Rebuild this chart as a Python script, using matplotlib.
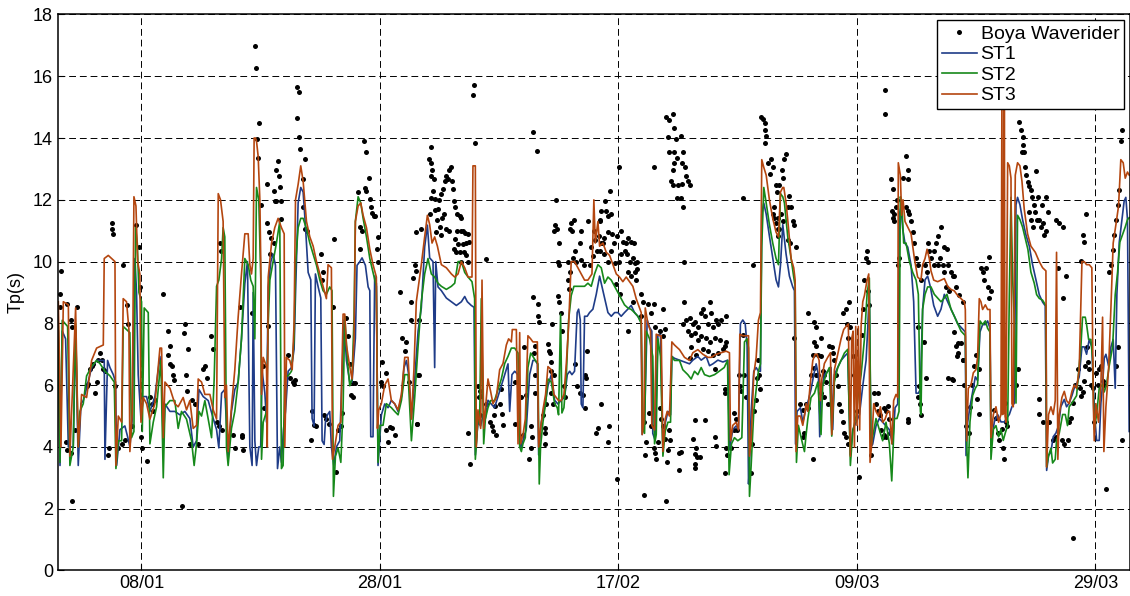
import matplotlib
matplotlib.use("Agg")
import matplotlib.pyplot as plt
import matplotlib.dates as mdates
import pandas as pd

plt.rcParams['font.family'] = ['Liberation Sans', 'DejaVu Sans']

# dias desde 01/01 y periodo de pico Tp (s)
boya_day = [0.25, 0.14, 0.17, 0.78, 1.09, 1.15, 1.56, 0.64, 0.75, 1.06, 1.42, 1.2, 2.4, 2.54, 2.68, 2.82, 2.96, 3.1,
            3.24, 3.38, 3.52, 3.66, 3.8, 3.94, 4.22, 4.27, 4.5, 4.5, 4.64, 4.78, 5.06, 5.34, 5.61, 5.47, 5.75, 5.84,
            6.17, 6.51, 6.79, 6.9, 6.96, 7.07, 7.43, 7.71, 7.85, 7.99, 8.13, 8.83, 9.19, 9.39, 9.25, 9.39, 9.58, 9.66,
            9.75, 10.36, 10.64, 10.59, 10.87, 10.7, 10.78, 11.06, 11.2, 11.48, 11.76, 12.18, 12.32, 12.46, 12.82, 13.02,
            13.3, 13.49, 13.72, 13.58, 13.63, 14.69, 14.83, 15.25, 15.45,
            16.51, 16.59, 16.84, 16.73, 16.79, 17.0, 17.5, 18.13, 18.32, 18.46, 18.52, 18.6, 18.18, 18.32, 18.69, 18.74,
            17.57, 17.7, 17.85, 18.13, 17.79, 17.63, 17.21, 17.3, 15.45, 15.53, 16.28, 20.08, 20.22, 20.08, 20.2,
            20.28, 20.75, 20.56, 20.56, 20.75, 20.92, 19.3, 19.44, 19.72, 19.86, 19.8, 21.2, 21.31, 21.48, 21.65, 22.04,
            22.23, 22.15, 22.32, 22.51, 22.71, 23.07, 23.15, 23.35, 23.49, 23.72, 23.82, 24.19, 24.33, 24.47, 24.55,
            24.78, 24.75, 24.94, 25.17, 25.31, 25.5, 25.66, 25.87, 25.87, 25.78, 26.06, 26.15, 26.28, 26.34, 26.51,
            26.62, 26.84, 26.79, 26.84, 25.31, 27.2, 27.49, 27.12, 27.26, 27.54, 27.68, 27.82, 28.02, 28.24, 28.66,
            28.85, 29.22, 29.14, 29.41, 29.58, 29.64, 29.78, 29.92, 30.0, 30.25, 30.14,
            31.32, 31.1, 31.26, 31.37, 31.32, 31.54, 31.46, 31.32, 31.6, 31.93, 31.87, 32.15, 32.29, 32.43, 32.57,
            32.77, 32.93, 32.71, 33.05, 33.13, 33.22, 33.32, 33.49, 33.69, 33.83, 31.17, 31.65, 31.82, 32.01, 32.21,
            32.37, 31.73, 32.09, 32.57, 32.77, 33.49, 33.77, 33.97, 34.16, 34.39, 33.32, 33.55, 33.97, 34.25, 34.44,
            33.2, 33.41, 33.69, 34.05, 34.25, 33.83, 34.39, 30.47, 30.06, 30.25, 30.2, 30.14, 34.89, 34.8, 34.97,
            35.87, 34.39, 34.53, 35.22, 35.36, 35.5, 35.28, 35.36, 35.92, 36.22, 36.41, 36.55, 36.68, 36.49, 36.77,
            37.07, 37.13, 37.22, 37.34, 38.29, 38.35, 38.83, 39.1, 38.99, 39.27, 39.47, 39.63, 39.75, 39.69, 39.83,
            40.2, 39.83, 40.25, 40.25, 40.31, 40.03, 39.92, 40.03, 39.97, 40.67, 40.81, 40.81, 40.86, 40.95, 41.09,
            41.14, 41.23, 41.37, 41.31, 41.43, 41.59, 41.37, 41.51, 41.65, 41.87, 41.59, 41.79, 41.98, 41.95, 42.04,
            41.95, 42.04, 42.17, 42.26, 42.4, 42.49, 42.77, 42.91, 43.04, 43.1, 43.27, 42.91, 42.77, 42.82, 43.18,
            43.32, 43.46, 43.74, 43.82, 43.82, 44.1, 43.32, 43.54, 43.74, 44.02, 44.16, 44.22, 44.3, 44.38, 44.44,
            44.58, 44.72, 44.86, 44.94, 45.06, 45.22, 45.14, 45.28, 45.5, 45.42, 45.56, 45.7,
            45.42, 45.89, 45.98, 46.26, 46.12, 46.34, 45.34, 45.56, 45.77, 46.12, 46.44, 46.65, 46.87, 47.23,
            47.01, 47.37, 47.65, 47.79, 48.07, 48.29, 45.42, 45.77, 46.12, 46.4, 46.74, 47.01, 47.23, 47.51, 47.74,
            47.93, 48.21, 48.41, 48.57, 47.79, 48.07, 48.35, 48.57, 48.49, 47.09, 46.82, 48.21, 48.91, 49.05, 49.47,
            49.97, 49.75, 50.73, 50.03, 50.45, 50.87, 50.73, 47.79, 48.91, 46.17, 46.12, 46.9, 49.13, 49.33,
            49.19, 49.13, 49.55, 49.69, 49.97, 50.11, 50.03, 50.31, 50.45, 50.59, 50.73, 50.87, 51.06, 51.0, 51.21,
            51.29, 51.15, 52.21, 52.04, 52.12, 52.49, 52.49, 50.0, 50.95, 51.15, 51.56, 51.21, 51.28, 51.7, 51.84,
            52.26, 51.65, 51.93, 51.7, 52.4, 51.56, 52.32, 52.6, 51.37, 51.56, 51.98, 52.32, 52.68, 52.82, 52.96,
            51.93, 52.21, 52.4, 52.4, 52.68, 52.96, 53.24, 53.38, 52.82, 53.1, 53.38, 53.66, 53.94, 54.08, 54.22,
            54.64, 54.78, 54.5, 54.92, 55.2, 55.34, 55.61, 56.03, 53.66, 53.94, 54.36, 54.64, 55.06, 55.48, 55.9,
            56.03, 53.1, 53.52, 52.96, 54.08, 54.5, 54.92, 55.34, 55.76, 55.06, 53.38, 54.22, 53.24, 53.52, 53.63,
            53.83, 53.38, 53.44, 53.44, 55.06, 55.2, 56.03, 56.09, 55.95, 55.95, 55.9, 56.4, 56.73, 56.87, 56.68,
            56.98, 57.07, 57.23, 57.29, 57.43, 57.51, 58.13, 58.18, 58.26, 58.41, 58.55, 58.63, 58.74, 58.83, 58.91,
            58.97, 59.11, 59.3, 59.25, 59.39, 59.25, 59.8, 59.94, 59.53, 59.75, 60.22, 60.31, 60.08, 59.94, 60.08,
            60.22, 60.36, 60.42, 60.64, 60.78, 57.43, 57.71,
            60.5, 60.78, 60.7, 60.92, 61.06, 60.36, 60.5, 61.2, 61.34, 61.48, 61.62, 61.76, 61.2, 61.42, 61.9,
            61.76, 62.26, 62.46, 62.74, 62.6, 62.46, 62.88, 62.93, 63.3, 63.44, 63.58, 63.99, 63.38, 63.58, 63.3,
            63.72, 63.99, 63.15, 63.44, 63.58, 63.77, 64.13, 64.27, 64.41, 63.99, 64.27, 64.55, 64.69, 64.89, 64.97,
            65.11, 65.25, 65.39, 65.53, 65.67, 65.81, 66.09, 65.95, 66.23, 65.81, 66.09, 66.17, 66.37, 66.45, 66.28,
            66.7, 66.76, 66.9, 67.04, 67.18, 67.4, 67.49, 67.63, 67.77, 67.85, 67.91, 67.96, 68.04, 68.18, 68.46,
            68.6, 68.74, 68.8, 68.97, 69.02, 69.16, 69.3, 69.44, 69.58, 69.72, 69.8, 69.44, 69.3, 69.36, 69.36,
            69.86, 70.0, 69.92, 70.0, 70.14, 70.08, 70.28, 70.36, 70.47, 70.56, 70.84, 71.12, 71.26, 71.31, 71.12,
            71.26, 71.4, 71.54, 71.68, 71.82, 71.96, 72.09, 72.37, 72.71, 72.88, 72.93, 73.07, 73.21, 73.44, 73.63,
            73.77, 73.49, 73.77, 73.99, 74.19, 74.33, 74.61, 74.89, 75.17, 74.02, 74.3, 74.53, 74.44, 74.72, 74.61,
            75.03, 75.31, 75.39, 75.45, 75.87, 72.15, 72.65, 72.79, 72.2, 72.09, 72.26, 72.37, 71.31, 71.26,
            75.03, 75.31, 75.59, 75.87, 75.17, 75.45, 75.73, 75.87, 74.97, 75.98, 76.12, 76.4, 76.45, 76.68,
            76.82, 76.96, 77.1, 77.26, 77.4, 77.54, 77.68, 77.82, 77.96, 78.1, 78.24, 78.04, 77.21, 78.52, 78.66,
            78.8, 78.94, 79.16, 79.27, 79.36, 79.44, 79.5, 79.55, 80.47, 80.36, 80.61, 80.75, 80.89, 80.95, 81.03,
            80.84, 81.12, 81.17, 81.31, 81.45, 81.59, 81.67, 81.87, 81.96, 82.07, 82.29, 82.43, 82.57, 82.71, 82.85,
            82.99, 81.45, 81.59, 81.73, 82.15, 82.51, 82.01, 82.85, 83.69, 83.97, 84.25, 83.83, 84.53, 84.25, 82.29,
            82.23, 82.57, 83.13, 83.41, 83.69, 84.19, 84.39, 84.66, 84.8, 84.94, 85.08, 85.31, 85.5, 85.7, 85.78,
            85.92, 86.06, 86.15, 86.26, 86.34, 86.48, 86.62, 86.76, 86.9, 87.04, 87.18, 87.32, 87.46, 87.6, 87.74,
            87.88, 85.14, 85.78, 85.98, 86.06, 86.2, 88.16, 88.3, 88.44, 88.58, 88.72, 88.86, 89.0, 89.13, 89.22,
            89.27, 88.86, 88.72]
boya_tp = [9.7, 8.94, 8.52, 8.64, 8.11, 7.87, 8.52, 4.15, 3.91, 3.79, 4.56, 2.26, 5.98, 6.04, 6.51, 6.63, 6.69, 5.74,
           6.1, 6.81, 7.04, 6.81, 6.51, 6.45, 3.74, 3.97, 11.24, 11.06, 10.89, 5.98, 3.97, 4.09, 4.21, 9.88, 8.58, 7.99,
           4.68, 11.18, 10.47, 9.17, 4.33, 3.97, 3.56, 5.63, 5.39, 5.15, 5.51, 8.94, 7.75, 7.28, 6.99, 6.69, 6.63, 6.34,
           6.16, 2.08, 7.99, 7.7, 7.16, 6.34, 5.8, 4.09, 5.51, 5.39, 4.09, 6.51, 6.63, 6.22, 7.58, 7.16,
           4.8, 4.68, 4.56, 10.59, 10.35, 4.39, 3.97, 8.52, 4.33,
           16.97, 16.26, 14.49, 13.96, 13.37, 11.83, 12.52, 12.28, 12.96, 13.25, 12.78, 12.42, 11.95, 11.95, 11.95,
           11.39, 11.26, 10.97, 10.77, 10.59, 10.24, 7.93, 6.63, 5.27, 4.39, 3.91, 8.35, 15.65, 15.5, 14.66, 14.02,
           13.64, 13.31, 12.66, 11.77, 11.06, 11.0, 6.99, 6.22, 6.1, 6.16, 6.04, 4.21, 5.15, 4.7, 4.68, 10.24,
           9.67, 9.41, 5.04, 4.92, 4.74, 8.52, 10.73, 3.2, 4.56, 4.68, 5.09, 8.17, 7.58, 6.69, 5.69,
           5.63, 6.08, 6.08, 12.25, 11.12, 11.0, 13.9, 13.55, 12.27, 12.39, 12.72, 12.03, 11.77, 11.56, 11.47,
           11.48, 10.8, 10.41, 9.98, 10.41, 6.75, 6.39, 6.1, 5.98, 4.56, 4.15, 4.65, 4.62, 4.39, 9.03,
           7.52, 7.4, 7.1, 6.1, 8.7, 8.11, 9.47, 9.88, 10.95, 6.34, 4.74,
           13.72, 13.31, 13.19, 12.96, 12.78, 12.66, 12.3, 12.07, 12.03, 12.0, 11.71, 12.19, 12.36, 12.6, 12.78,
           12.96, 13.05, 12.66, 12.6, 12.36, 11.95, 11.77, 11.54, 11.48, 11.42, 11.54, 11.66, 11.36, 11.12, 11.42,
           11.54, 10.95, 10.85, 11.06, 11.0, 11.0, 11.0, 11.0, 10.92, 10.89, 10.73, 10.57, 10.57, 10.59, 10.65,
           10.41, 10.3, 10.3, 10.3, 10.21, 10.0, 10.0, 11.06, 9.7, 8.11, 6.34, 4.74, 15.73, 15.38, 13.84,
           10.09, 4.44, 3.44, 5.98, 5.8, 5.65, 5.63, 5.04, 5.39, 4.8, 4.68, 5.04, 5.33, 4.5, 4.39,
           5.39, 5.86, 5.06, 4.7, 4.74, 6.1, 5.63, 7.22, 4.39, 5.69, 3.62, 3.97, 4.33, 4.68, 14.2,
           13.57, 8.84, 8.64, 8.23, 8.05, 7.28, 7.04, 6.34, 5.74, 5.04, 4.62, 4.09, 4.44, 5.39, 7.34,
           7.1, 7.04, 6.75, 6.45, 7.99, 6.34, 5.74, 5.39, 11.18, 11.06, 11.0, 12.01, 10.59, 10.0, 9.88,
           8.88, 8.7, 8.35, 7.75, 5.98, 5.63, 10.0, 11.06, 11.24, 11.0, 11.36, 9.65, 9.41, 9.11, 10.12,
           10.35, 10.0, 10.59, 11.0, 10.06, 9.88, 6.69, 5.98, 5.74, 5.69, 5.27, 6.34, 6.22, 7.1, 11.3,
           9.88, 10.47, 10.18, 11.0, 10.71, 10.35, 4.44, 4.62, 5.39, 11.36, 11.65, 10.59,
           11.3, 11.95, 11.65, 12.3, 11.48, 11.54, 10.83, 10.59, 10.77, 10.95, 10.89, 10.59, 10.83, 11.0,
           13.07, 10.65, 10.59, 10.77, 10.65, 10.59, 10.35, 10.24, 10.0, 10.35, 9.94, 10.0, 10.24, 10.35, 10.24,
           10.0, 10.12, 9.94, 10.0, 9.65, 9.53, 9.65, 9.76, 9.41, 8.94, 9.29, 8.7, 8.94, 8.7, 8.64,
           8.64, 8.35, 8.46, 7.87, 7.75, 7.81, 7.58, 7.75, 8.23, 4.68, 4.15, 2.97, 4.8, 4.15,
           3.74, 2.43, 5.09, 4.68, 3.97, 3.62, 3.79, 4.15, 5.27, 4.92, 4.68, 4.27, 3.5, 2.26, 4.56,
           4.21, 3.91, 3.85, 3.26, 3.79, 8.7, 10.0, 13.05, 14.67, 14.04, 14.79, 13.55, 14.57, 14.33, 13.96,
           14.08, 13.55, 13.37, 13.19, 13.55, 12.96, 13.19, 13.07, 12.6, 12.48, 12.48, 12.51, 12.78, 12.6, 12.48,
           12.07, 12.07, 11.77, 7.99, 8.11, 8.17, 7.99, 8.05, 7.75, 7.63, 7.69, 7.87, 8.35, 8.46, 8.23,
           8.7, 8.35, 7.99, 7.87, 8.11, 7.99, 8.11, 8.23, 7.46, 7.58, 7.52, 7.4, 7.52, 7.46, 7.28,
           7.4, 7.22, 6.99, 6.87, 7.16, 7.1, 6.99, 7.04, 7.16, 6.51, 4.86, 4.86, 4.27, 3.97, 3.68,
           3.68, 3.76, 3.44, 3.32, 4.33, 4.03, 3.97, 3.74, 3.14, 5.74, 5.86, 3.97, 5.09, 4.92, 4.56,
           4.56, 6.34, 5.98, 5.8, 7.63, 6.34, 3.14, 4.09, 9.88, 5.15, 5.51, 6.22, 6.81, 6.34, 5.86,
           14.67, 14.61, 14.49, 14.25, 14.08, 13.84, 13.31, 13.07, 13.19, 12.84, 12.48, 12.25, 11.77, 11.54, 11.42,
           11.24, 11.06, 10.83, 11.54, 11.3, 12.07, 5.63,
           12.48, 12.72, 12.96, 13.31, 13.49, 11.42, 11.06, 11.77, 12.13, 11.77, 11.3, 11.18, 10.71, 10.59, 10.47,
           7.52, 5.39, 5.21, 5.39, 4.44, 4.33, 5.27, 8.35, 3.62, 8.05, 7.87, 7.54, 7.4, 7.28, 6.99,
           6.99, 6.93, 6.34, 6.57, 6.34, 6.34, 6.45, 6.34, 6.1, 5.74, 5.63, 5.39, 7.28, 7.22, 7.04,
           6.81, 6.34, 5.98, 5.39, 5.15, 4.8, 4.33, 4.44, 4.09, 8.35, 8.46, 7.99, 8.7, 7.87, 7.52,
           6.93, 6.34, 5.86, 5.15, 3.03, 7.63, 8.46, 9.41, 10.12, 10.35, 10.0, 9.05, 8.58, 3.74, 5.74,
           5.39, 5.74, 5.15, 5.04, 4.56, 4.33, 5.27, 5.15, 5.33, 4.92, 4.44, 4.33, 4.39, 15.56, 14.79,
           12.66, 12.36, 11.65, 11.42, 11.54, 11.3, 11.77, 12.01, 9.88, 10.12, 12.72, 13.43, 12.96, 12.66, 11.77,
           11.65, 11.54, 11.3, 10.95, 10.59, 10.12, 9.88, 9.41, 9.88, 9.65, 10.59, 10.35, 10.12, 10.35, 10.59,
           10.83, 9.88, 9.88, 10.12, 9.88, 9.65, 9.88, 9.65, 9.53, 11.12, 10.47, 10.41, 9.17, 9.05, 6.22,
           6.16, 7.28, 6.93, 7.04, 6.81, 7.87, 7.4, 6.22, 5.98, 5.63, 5.39, 5.04, 4.8, 4.92,
           9.54, 9.18, 8.93, 8.69, 7.72, 7.36, 7.36, 6.81, 6.21, 6.02, 4.69, 4.45, 5.3, 6.02,
           6.63, 6.99, 5.54, 5.05, 9.78, 9.66, 9.42, 9.78, 9.18, 10.15, 9.05, 8.81, 6.51, 5.18, 4.93,
           4.45, 4.21, 4.57, 3.96, 3.6, 5.42, 4.81, 4.69, 6.51, 6.02, 14.51, 14.27, 14.02, 13.78, 13.54,
           13.54, 13.05, 12.81, 12.57, 12.45, 12.33, 12.08, 11.84, 11.6, 11.36, 11.36, 11.12, 11.24, 10.87, 10.99,
           11.6, 11.6, 11.36, 11.12, 12.08, 11.84, 12.93, 12.08, 11.36, 11.24, 11.12, 9.78, 9.54, 8.81, 5.54,
           5.05, 4.81, 4.81, 4.21, 4.33, 4.21, 4.08, 4.21, 4.81, 4.93, 5.42, 6.02, 6.51, 5.9, 5.66,
           5.78, 6.15, 6.63, 7.24, 6.75, 6.51, 6.02, 5.9, 4.81, 6.39, 6.02, 6.51, 6.63, 6.15, 6.02,
           2.63, 1.05, 10.02, 10.87, 10.63, 11.54, 9.66, 9.9, 10.39, 10.87, 11.36, 11.84, 12.33, 13.9, 14.27,
           4.21, 7.24, 6.63]

st1_day = [0.03, 0.17, 0.36, 0.64, 0.87, 1.28, 1.48, 1.7, 1.93, 2.12, 2.4, 2.82, 3.24, 3.52, 3.88, 3.94, 4.16, 4.36,
           4.64, 4.83, 4.92, 5.2, 5.61, 5.84, 6.03, 6.23, 6.45, 6.59, 6.73, 6.96, 7.15, 7.43, 7.71, 8.13, 8.55, 8.69,
           8.83, 8.97, 9.39, 9.8, 10.22, 10.64, 11.06, 11.34, 11.62, 11.82, 12.18, 12.6, 13.02, 13.3, 13.49, 13.72,
           13.99, 14.27, 14.55, 14.83, 15.11, 15.39, 15.67, 15.89, 16.09, 16.28, 16.37, 16.51, 16.65, 16.84, 17.0,
           17.12, 17.35, 17.49, 17.63, 17.85, 18.04, 18.24, 18.41, 18.6, 18.74, 18.91, 19.08, 19.3, 19.58, 19.8,
           19.92, 20.14, 20.36, 20.56, 20.75, 20.98, 21.2, 21.31, 21.48, 21.59, 21.82, 22.04, 22.15, 22.32, 22.43,
           22.6, 22.79, 22.93, 23.13, 23.35, 23.63, 23.82, 23.99, 24.19, 24.47, 24.66, 24.94, 25.08, 25.28, 25.5,
           25.78, 26.01, 26.15, 26.23, 26.42, 26.56, 26.7, 26.84, 27.12, 27.4, 27.68, 27.96, 28.24, 28.52, 28.8,
           29.02, 29.22, 29.41, 29.64, 29.92, 30.2, 30.47, 30.75, 30.98, 31.17, 31.45, 31.59, 31.68, 31.87, 32.15,
           32.57, 32.99, 33.41, 33.83, 34.11, 34.33, 34.66, 34.89, 35.0, 35.22, 35.45, 35.64, 35.84, 36.06, 36.34,
           36.61, 36.9, 37.18, 37.46, 37.74, 37.88, 38.07, 38.3, 38.58, 38.8, 38.99, 39.27, 39.55, 39.83, 40.03,
           40.2, 40.31, 40.53, 40.81, 41.09, 41.37, 41.65, 41.93, 42.2, 42.49, 42.71, 42.91, 43.1, 43.32, 43.54,
           43.66, 43.8, 43.88, 44.02, 44.16, 44.38, 44.58, 44.86, 45.14, 45.42, 45.56, 45.84, 46.12, 46.4, 46.68,
           46.96, 47.23, 47.51, 47.79, 48.07, 48.35, 48.63, 48.91, 48.99, 49.19, 49.41, 49.61, 49.8, 49.88, 50.08,
           50.31, 50.53, 50.73, 50.92, 51.15, 51.37, 51.48, 51.7, 52.12, 52.54, 52.96, 53.24, 53.66, 53.94, 54.36,
           54.64, 54.92, 55.34, 55.76, 56.17, 56.31, 56.59, 56.87, 57.07, 57.23, 57.43, 57.63, 57.79, 57.91, 57.99,
           58.13, 58.35, 58.55, 58.74, 58.91, 59.02, 59.19, 59.39, 59.66, 59.94, 60.22, 60.42, 60.59, 60.78, 61.06,
           61.34, 61.62, 61.76, 61.85, 61.98, 62.26, 62.46, 62.74, 62.93, 63.15, 63.38, 63.58, 63.77, 63.88, 63.99,
           64.27, 64.55, 64.83, 64.97, 65.11, 65.39, 65.67, 65.95, 66.23, 66.45, 66.65, 66.93, 67.21, 67.49, 67.77,
           67.91, 68.04, 68.18, 68.32, 68.6, 68.88, 69.16, 69.44, 69.72, 69.99, 70.2, 70.42, 70.56, 70.7, 70.84,
           71.03, 71.26, 71.54, 71.76, 71.96, 72.15, 72.32, 72.51, 72.71, 72.93, 73.16, 73.44, 73.77, 74.05, 74.33,
           74.61, 74.89, 75.17, 75.45, 75.73, 76.01, 76.09, 76.15, 76.29, 76.48, 76.7, 76.93, 77.12, 77.32, 77.54,
           77.77, 77.96, 78.16, 78.24, 78.52, 78.8, 79.08, 79.36, 79.55, 79.78, 80.0, 80.2, 80.34, 80.47, 80.67,
           80.89, 81.17, 81.45, 81.73, 82.01, 82.29, 82.57, 82.79, 82.91, 83.07, 83.27, 83.46, 83.69, 83.91, 84.1,
           84.39, 84.58, 84.8, 85.03, 85.22, 85.42, 85.64, 85.87, 86.06, 86.26, 86.48, 86.7, 86.82, 86.98, 87.1,
           87.32, 87.46, 87.6, 87.74, 87.88, 88.1, 88.3, 88.49, 88.66, 88.8, 89.0, 89.22, 89.41, 89.55, 89.69,
           89.83]
st1_tp = [7.75, 3.4, 7.75, 7.5, 4.0, 4.0, 7.9, 3.4, 5.4, 5.5, 5.9, 6.57, 6.8, 6.8, 6.8, 3.6, 6.8, 6.57,
          6.34, 6.1, 3.4, 4.56, 4.68, 4.33, 4.0, 4.9, 10.1, 9.0, 6.34, 4.9, 5.63, 5.63, 5.15, 5.63, 6.93, 6.45,
          4.0, 5.39, 5.15, 5.15, 5.04, 5.15, 4.92, 4.0, 4.2, 5.86, 5.63, 5.5, 4.92, 4.56, 3.97, 5.74,
          5.86, 3.6, 5.15, 5.86, 6.1, 7.5, 9.29, 10.0, 4.0, 3.4, 9.0, 4.2, 3.4, 4.0, 4.0,
          6.45, 5.74, 4.8, 9.18, 10.0, 10.24, 9.88, 3.3, 4.0, 3.5, 4.56, 5.15, 6.45, 6.57, 7.16,
          8.94, 11.9, 12.4, 12.25, 11.18, 9.65, 9.41, 4.92, 4.68, 9.6, 9.18, 8.82, 4.2, 4.08, 4.8,
          5.04, 5.15, 4.0, 3.4, 4.0, 4.2, 6.34, 8.11, 6.8, 6.1, 6.1, 7.52, 9.88, 9.98, 10.12,
          9.88, 9.18, 9.06, 4.33, 4.33, 9.53, 9.29, 3.4, 5.04, 5.39, 5.27, 5.51, 5.39, 5.15, 5.63,
          6.57, 6.8, 6.34, 4.92, 6.22, 7.75, 8.5, 10.47, 11.18, 10.12, 10.0, 6.57, 10.0, 9.18, 9.06,
          8.82, 8.7, 8.58, 8.7, 8.87, 8.7, 8.58, 8.52, 3.74, 4.8, 4.68, 5.04, 4.92, 5.51, 5.39,
          5.27, 5.63, 5.98, 6.34, 6.69, 5.15, 6.34, 6.45, 6.34, 3.97, 4.2, 4.56, 6.34, 6.8, 6.8,
          6.69, 3.74, 4.8, 5.27, 5.98, 6.34, 5.51, 5.39, 5.51, 5.63, 6.34, 6.45, 6.34, 6.45, 8.35,
          8.46, 8.11, 5.39, 5.27, 8.23, 8.23, 8.35, 8.46, 8.94, 9.53, 9.29, 8.82, 8.35, 8.23, 8.35,
          8.35, 8.23, 8.35, 8.46, 8.58, 8.35, 8.23, 8.05, 4.4, 4.8, 8.11, 7.87, 7.75, 4.44, 4.21,
          7.63, 7.63, 3.91, 4.76, 5.15, 5.04, 6.93, 6.87, 6.81, 6.75, 6.69, 6.81, 6.93, 6.81, 6.93,
          6.63, 6.69, 6.81, 6.75, 6.81, 3.91, 4.56, 4.68, 4.56, 7.99, 8.11, 7.99, 7.28, 2.8, 3.4,
          5.15, 6.45, 6.57, 6.45, 6.45, 11.54, 11.89, 11.54, 10.83, 10.12, 9.41, 9.18, 9.88, 11.2, 10.24,
          9.53, 9.18, 9.06, 4.09, 5.15, 5.27, 4.8, 5.27, 5.51, 5.86, 6.34, 6.69, 6.34, 4.33, 5.74,
          6.34, 6.45, 6.57, 4.56, 6.34, 6.57, 6.8, 6.93, 7.04, 3.74, 4.56, 4.8, 5.04, 5.98, 6.81,
          7.87, 9.06, 4.0, 4.09, 4.68, 4.92, 4.8, 4.68, 4.56, 4.09, 5.27, 5.39, 11.54, 11.77, 11.06,
          10.59, 10.47, 9.88, 8.7, 5.74, 5.74, 5.86, 8.46, 9.41, 9.53, 9.18, 8.58, 8.23, 8.46, 8.94,
          8.7, 8.46, 8.23, 7.99, 7.87, 7.75, 7.72, 3.72, 4.81, 5.3, 5.78, 6.27, 6.15, 7.72, 7.96,
          7.96, 8.08, 7.84, 4.08, 4.81, 5.05, 4.81, 4.81, 4.93, 5.05, 5.3, 5.42, 11.84, 12.08, 11.84,
          11.36, 10.87, 10.51, 9.9, 9.42, 8.93, 8.69, 8.57, 3.24, 3.72, 3.84, 4.33, 4.45, 4.69, 5.3,
          5.54, 5.3, 5.42, 5.66, 5.9, 6.02, 6.27, 7.24, 7.24, 7.0, 7.48, 7.24, 6.02, 4.81, 4.21,
          4.21, 5.42, 6.02, 6.87, 7.0, 6.63, 7.24, 7.48, 5.9, 8.93, 10.63, 11.36, 11.96, 12.08, 11.36,
          4.5]

st2_day = [0.03, 0.17, 0.36, 0.59, 0.81, 1.0, 1.28, 1.48, 1.7, 1.84, 2.12, 2.4, 2.82, 3.24, 3.52, 3.94, 4.36, 4.72,
           4.86, 5.06, 5.34, 5.47, 5.75, 6.03, 6.17, 6.37, 6.51, 6.65, 6.79, 7.01, 7.07, 7.23, 7.57, 7.71, 7.99, 8.27,
           8.63, 8.83, 8.97, 9.39, 9.8, 10.08, 10.36, 10.78, 11.2, 11.42, 11.62, 11.82, 12.04, 12.32, 12.6, 12.88,
           13.1, 13.3, 13.49, 13.72, 13.85, 13.99, 14.13, 14.27, 14.55, 14.83, 15.11, 15.39, 15.67, 15.95, 16.17,
           16.37, 16.51, 16.65, 16.84, 17.01, 17.07, 17.21, 17.49, 17.63, 17.77, 18.04, 18.32, 18.6, 18.74, 18.88,
           19.02, 19.3, 19.58, 19.8, 19.92, 20.14, 20.36, 20.56, 20.84, 21.12, 21.4, 21.68, 21.96, 22.23, 22.51,
           22.79, 22.98, 23.1, 23.27, 23.49, 23.72, 23.91, 24.05, 24.27, 24.47, 24.66, 24.83, 24.94, 25.17, 25.39,
           25.59, 25.87, 26.15, 26.42, 26.7, 26.84, 27.01, 27.26, 27.54, 27.96, 28.24, 28.52, 28.8, 29.08, 29.36,
           29.64, 29.92, 30.2, 30.47, 30.75, 31.03, 31.31, 31.59, 31.87, 32.15, 32.57, 32.99, 33.27, 33.55, 33.83,
           34.11, 34.39, 34.72, 34.94, 35.0, 35.22, 35.36, 35.5, 35.7, 35.84, 36.06, 36.28, 36.61, 36.9, 37.18,
           37.46, 37.74, 38.02, 38.3, 38.58, 38.72, 38.86, 38.99, 39.19, 39.41, 39.64, 39.83, 40.03, 40.25, 40.36,
           40.47, 40.67, 40.89, 41.09, 41.37, 41.65, 41.87, 41.98, 42.15, 42.26, 42.43, 42.63, 42.82, 43.04, 43.27,
           43.6, 44.16, 44.44, 44.72, 45.0, 45.28, 45.56, 45.84, 46.12, 46.4, 46.68, 46.96, 47.23, 47.51, 47.79,
           48.07, 48.35, 48.63, 48.91, 49.05, 49.19, 49.33, 49.61, 49.88, 50.03, 50.17, 50.31, 50.53, 50.73, 50.92,
           51.15, 51.37, 51.48, 51.7, 52.12, 52.4, 52.82, 53.1, 53.38, 53.66, 53.94, 54.22, 54.64, 55.06, 55.45,
           55.87, 56.15, 56.28, 56.48, 56.73, 57.01, 57.35, 57.57, 57.79, 57.91, 57.99, 58.13, 58.35, 58.55, 58.74,
           58.91, 59.02, 59.19, 59.39, 59.66, 59.94, 60.22, 60.42, 60.59, 60.78, 60.92, 61.2, 61.48, 61.7, 61.82,
           61.93, 62.09, 62.32, 62.6, 62.74, 62.88, 63.15, 63.44, 63.72, 63.99, 64.13, 64.41, 64.69, 64.89, 65.11,
           65.39, 65.67, 65.95, 66.23, 66.45, 66.65, 66.93, 67.12, 67.35, 67.63, 67.85, 68.04, 68.18, 68.32, 68.6,
           68.88, 69.16, 69.44, 69.72, 69.92, 70.14, 70.36, 70.53, 70.64, 70.75, 70.92, 71.12, 71.4, 71.68, 71.96,
           72.15, 72.32, 72.37, 72.51, 72.71, 72.93, 73.21, 73.49, 73.77, 74.05, 74.33, 74.55, 74.89, 75.17, 75.45,
           75.73, 76.01, 76.09, 76.2, 76.31, 76.48, 76.7, 76.93, 77.12, 77.32, 77.54, 77.77, 77.96, 78.16, 78.24,
           78.44, 78.66, 78.88, 79.08, 79.27, 79.44, 79.64, 79.78, 79.92, 80.06, 80.2, 80.34, 80.47, 80.67, 80.89,
           81.12, 81.34, 81.59, 81.87, 82.07, 82.29, 82.57, 82.85, 82.91, 83.07, 83.27, 83.41, 83.63, 83.74, 83.97,
           84.25, 84.47, 84.66, 84.8, 85.03, 85.22, 85.42, 85.59, 85.78, 85.92, 86.15, 86.26, 86.43, 86.62, 86.76,
           86.9, 87.1, 87.32, 87.6, 87.74, 87.93, 88.16, 88.44, 88.66, 88.86, 89.05, 89.27, 89.5, 89.69, 89.83]
st2_tp = [7.9, 3.5, 8.1, 8.0, 7.9, 3.4, 4.0, 8.0, 4.0, 5.15, 5.4, 6.3, 6.6, 6.8, 6.7, 6.45, 6.3, 6.1,
          3.3, 4.2, 4.2, 7.9, 7.8, 7.7, 4.3, 4.5, 11.1, 10.6, 9.0, 8.7, 4.5, 8.5, 8.35, 4.1, 4.8, 5.3,
          6.8, 3.0, 5.3, 5.5, 5.5, 4.6, 5.15, 4.9, 4.2, 3.4, 4.1, 5.15, 5.0, 5.5, 4.9, 4.3,
          6.2, 9.2, 9.4, 10.1, 11.1, 10.8, 4.0, 3.4, 4.6, 5.15, 6.1, 7.5, 10.1, 9.9, 9.4,
          9.2, 7.5, 12.4, 12.0, 9.4, 3.6, 4.8, 5.15, 8.0, 9.4, 10.0, 10.6, 11.3, 3.3, 3.4,
          6.3, 6.3, 6.45, 7.5, 9.9, 11.1, 11.4, 11.4, 11.06, 10.6, 10.24, 9.88, 9.4, 9.06, 8.94,
          9.18, 9.06, 2.4, 3.7, 3.97, 3.5, 5.27, 8.23, 6.8, 5.98, 6.2, 8.23, 11.3, 12.1, 11.9,
          11.4, 10.8, 10.1, 9.65, 9.2, 3.5, 4.7, 4.7, 5.4, 5.27, 5.15, 5.04, 5.5, 6.34, 6.34,
          4.2, 5.63, 7.27, 8.7, 9.6, 10.1, 9.6, 9.5, 9.3, 9.2, 9.1, 9.2, 9.3, 10.0, 10.0,
          9.65, 9.5, 9.35, 8.8, 3.6, 4.9, 4.8, 8.8, 4.1, 4.9, 5.27, 5.5, 5.5, 5.86, 6.2,
          6.7, 6.93, 7.2, 7.2, 7.04, 4.0, 3.85, 4.1, 4.3, 6.57, 7.04, 6.93, 6.8, 6.69, 2.8,
          4.0, 4.8, 5.4, 6.2, 6.1, 5.4, 5.27, 5.04, 8.3, 5.1, 5.27, 6.3, 8.1, 8.9, 9.2,
          9.2, 9.2, 9.3, 9.2, 9.6, 9.9, 9.8, 9.3, 9.5, 9.4, 9.2, 9.0, 8.8, 8.6, 8.5,
          8.45, 8.35, 8.23, 8.0, 4.6, 4.44, 7.75, 7.5, 6.93, 4.1, 4.4, 7.5, 6.93, 3.7, 4.5,
          4.8, 4.8, 6.93, 6.8, 6.8, 6.5, 6.34, 6.2, 6.45, 6.34, 6.57, 6.34, 6.28, 6.34, 6.45,
          6.57, 6.8, 3.1, 4.1, 4.3, 4.2, 4.3, 7.4, 7.5, 7.2, 2.4, 3.4, 5.15, 5.86, 6.45,
          6.69, 10.5, 12.4, 11.9, 11.2, 10.6, 10.1, 9.9, 12.2, 12.1, 11.9, 10.8, 10.1, 9.5, 9.2,
          3.5, 4.7, 4.3, 3.85, 4.4, 4.9, 5.6, 5.74, 6.1, 4.4, 5.98, 6.34, 6.57, 4.35, 6.1,
          6.57, 6.8, 7.04, 7.16, 3.4, 4.5, 5.0, 5.74, 6.34, 7.5, 8.94, 9.47, 4.0, 4.33, 4.92,
          4.56, 4.2, 4.8, 4.1, 2.9, 4.92, 4.92, 5.15, 12.1, 12.0, 10.6, 10.6, 10.0, 9.65, 9.4,
          8.94, 5.15, 5.04, 8.46, 8.94, 9.18, 9.18, 8.94, 8.82, 8.7, 8.82, 8.94, 8.46, 8.23, 7.99,
          7.75, 7.63, 7.6, 4.2, 3.0, 4.81, 5.66, 5.9, 6.02, 8.08, 7.96, 8.08, 7.84, 7.72, 3.6,
          4.57, 4.69, 4.33, 4.57, 4.21, 4.45, 4.69, 8.93, 12.08, 9.42, 8.08, 5.42, 11.5, 11.36, 11.12,
          10.75, 10.39, 9.66, 9.3, 8.93, 8.81, 8.75, 8.57, 3.36, 3.72, 3.96, 3.48, 3.6, 4.21, 4.45,
          5.05, 5.05, 4.69, 5.3, 5.42, 5.54, 5.66, 6.39, 7.24, 8.2, 8.2, 7.96, 7.48, 7.48, 6.87,
          4.57, 5.05, 5.9, 6.02, 5.78, 6.02, 6.63, 7.24, 8.93, 9.66, 10.63, 10.87, 11.12, 11.36, 11.42]

st3_day = [0.03, 0.25, 0.45, 0.87, 1.0, 1.48, 1.7, 1.98, 2.4, 2.82, 3.24, 3.8, 3.88, 4.22, 4.78, 4.86, 5.06, 5.34,
           5.47, 5.75, 5.95, 6.03, 6.23, 6.37, 6.54, 6.68, 6.87, 6.96, 7.15, 7.43, 7.71, 8.13, 8.55, 8.69, 8.83, 8.97,
           9.39, 9.8, 10.08, 10.5, 10.78, 11.06, 11.34, 11.62, 11.76, 12.04, 12.32, 12.74, 13.02, 13.3, 13.44, 13.63,
           13.85, 13.99, 14.13, 14.27, 14.55, 14.83, 15.11, 15.39, 15.67, 15.95, 16.09, 16.23, 16.37, 16.45, 16.56,
           16.65, 16.79, 16.93, 17.01, 17.07, 17.21, 17.49, 17.55, 17.63, 17.91, 18.18, 18.46, 18.74, 18.97, 19.02,
           19.16, 19.44, 19.64, 19.8, 19.92, 20.14, 20.36, 20.56, 20.84, 21.12, 21.4, 21.68, 21.96, 22.23, 22.51,
           22.65, 22.93, 23.02, 23.21, 23.49, 23.72, 23.91, 24.05, 24.19, 24.47, 24.66, 24.83, 24.94, 25.17, 25.39,
           25.59, 25.87, 26.15, 26.42, 26.7, 26.79, 26.9, 27.12, 27.4, 27.68, 27.96, 28.24, 28.52, 28.8, 29.08,
           29.36, 29.64, 29.85, 30.05, 30.3, 30.47, 30.75, 30.98, 31.17, 31.37, 31.59, 31.82, 32.15, 32.57, 32.99,
           33.27, 33.55, 33.83, 34.11, 34.39, 34.72, 34.8, 35.0, 35.08, 35.22, 35.45, 35.56, 35.7, 35.84, 36.06,
           36.28, 36.48, 36.76, 37.04, 37.32, 37.6, 37.79, 38.02, 38.1, 38.21, 38.44, 38.58, 38.72, 38.8, 39.0,
           39.19, 39.41, 39.64, 39.83, 40.03, 40.2, 40.31, 40.47, 40.67, 40.89, 41.09, 41.37, 41.59, 41.79, 41.98,
           42.2, 42.43, 42.63, 42.82, 43.04, 43.32, 43.6, 43.88, 44.16, 44.44, 44.78, 44.94, 45.06, 45.28, 45.42,
           45.7, 45.98, 46.26, 46.54, 46.82, 47.09, 47.37, 47.65, 47.93, 48.21, 48.49, 48.77, 48.91, 48.99, 49.13,
           49.25, 49.47, 49.69, 49.8, 50.03, 50.17, 50.45, 50.59, 50.73, 50.92, 51.09, 51.28, 51.48, 51.7, 52.12,
           52.54, 52.96, 53.24, 53.66, 54.08, 54.5, 54.78, 55.2, 55.61, 56.03, 56.31, 56.4, 56.59, 56.87, 57.07,
           57.18, 57.43, 57.71, 57.91, 57.99, 58.13, 58.35, 58.55, 58.74, 58.91, 59.02, 59.19, 59.39, 59.66, 59.94,
           60.22, 60.42, 60.59, 60.78, 60.87, 61.06, 61.26, 61.48, 61.7, 61.82, 61.9, 62.04, 62.26, 62.46, 62.6,
           62.74, 62.88, 63.1, 63.3, 63.49, 63.66, 63.83, 63.94, 64.06, 64.27, 64.55, 64.78, 64.89, 65.11, 65.39,
           65.67, 65.89, 66.09, 66.28, 66.45, 66.56, 66.68, 66.79, 66.9, 67.01, 67.12, 67.23, 67.35, 67.49, 67.63,
           67.85, 67.99, 68.1, 68.24, 68.41, 68.6, 68.8, 68.97, 69.16, 69.36, 69.58, 69.75, 69.92, 70.08, 70.28,
           70.42, 70.47, 70.64, 70.75, 70.87, 71.03, 71.28, 71.54, 71.82, 72.09, 72.37, 72.51, 72.71, 72.88, 73.07,
           73.21, 73.44, 73.77, 74.05, 74.33, 74.61, 74.89, 75.17, 75.45, 75.73, 76.01, 76.09, 76.2, 76.34, 76.56,
           76.76, 76.98, 77.12, 77.26, 77.4, 77.54, 77.77, 77.96, 78.16, 78.24, 78.44, 78.66, 78.88, 79.08, 79.16,
           79.22, 79.3, 79.36, 79.42, 79.5, 79.64, 79.78, 79.92, 80.0, 80.11, 80.28, 80.47, 80.67, 80.84, 81.03,
           81.31, 81.59, 81.96, 82.29, 82.57, 82.85, 82.91, 83.07, 83.27, 83.46, 83.63, 83.74, 83.85, 83.97, 84.19,
           84.39, 84.58, 84.8, 85.03, 85.22, 85.42, 85.64, 85.87, 86.06, 86.26, 86.48, 86.7, 86.82, 86.9, 87.04,
           87.26, 87.46, 87.6, 87.71, 87.88, 88.1, 88.3, 88.49, 88.72, 88.94, 89.13, 89.33, 89.5, 89.69, 89.83]
st3_tp = [8.7, 4.0, 8.7, 8.6, 3.7, 8.5, 4.0, 5.7, 5.6, 6.8, 7.2, 7.3, 10.1, 10.2, 10.0, 3.4, 5.0, 4.8,
          8.8, 8.7, 7.8, 3.85, 5.15, 12.1, 11.8, 10.0, 9.6, 4.8, 5.6, 5.4, 4.9, 5.4, 7.2, 7.2, 4.3, 6.1,
          5.9, 5.4, 5.3, 5.6, 5.2, 5.5, 4.6, 4.7, 6.2, 6.1, 5.7, 5.7, 5.2, 4.9, 12.2, 12.0,
          11.3, 5.6, 6.0, 3.85, 5.3, 6.5, 8.2, 9.6, 10.9, 10.9, 9.9, 9.6, 10.1, 14.0, 14.0,
          13.9, 13.4, 12.0, 9.9, 5.7, 6.9, 6.6, 4.0, 9.5, 10.6, 11.1, 11.4, 11.1, 10.9, 4.0,
          6.9, 6.8, 6.5, 8.0, 12.0, 12.5, 13.1, 12.6, 11.3, 10.8, 10.5, 10.0, 9.6, 9.2, 8.8,
          9.9, 9.8, 3.6, 4.0, 4.7, 4.8, 8.3, 8.3, 7.3, 6.6, 6.2, 7.5, 11.3, 11.8, 11.9,
          11.5, 11.1, 10.4, 9.9, 9.5, 4.6, 5.2, 5.4, 6.0, 6.2, 5.5, 5.4, 5.2, 5.7, 6.9,
          6.9, 4.9, 6.5, 8.7, 9.4, 9.9, 10.8, 11.5, 11.2, 10.6, 10.8, 10.5, 9.9, 9.8, 9.6,
          9.5, 9.6, 10.0, 9.8, 9.5, 9.5, 13.1, 13.1, 4.0, 5.2, 4.6, 9.4, 4.6, 5.2, 6.2,
          5.8, 5.4, 5.6, 6.5, 6.7, 7.3, 7.5, 7.4, 7.8, 7.8, 7.8, 4.1, 7.7, 4.1, 4.4,
          4.9, 7.6, 7.5, 7.4, 7.4, 7.4, 4.0, 4.6, 5.2, 5.7, 6.6, 6.5, 5.7, 5.6, 5.5,
          5.5, 5.7, 6.7, 7.9, 10.0, 10.0, 9.8, 9.6, 9.4, 9.4, 9.6, 12.0, 10.6, 11.3, 10.5,
          10.6, 10.3, 10.2, 9.9, 9.6, 9.5, 9.35, 9.5, 9.35, 9.2, 8.8, 8.5, 8.35, 4.4, 4.8,
          8.5, 8.0, 7.75, 4.7, 4.55, 7.65, 7.6, 7.6, 3.85, 4.9, 5.15, 5.0, 7.4, 7.3, 7.15,
          6.9, 6.8, 7.05, 7.15, 7.0, 6.9, 6.9, 7.0, 7.05, 7.1, 7.05, 4.2, 4.7, 4.8, 4.55,
          7.65, 7.6, 7.6, 7.6, 3.7, 4.2, 6.35, 6.9, 8.1, 8.35, 13.3, 13.05, 12.8, 12.0, 11.4,
          10.95, 10.8, 12.25, 12.4, 12.4, 11.9, 11.1, 10.1, 9.8, 9.4, 3.85, 5.0, 5.0, 4.7, 5.0,
          5.4, 5.15, 6.1, 6.8, 7.0, 7.0, 6.8, 5.5, 6.2, 6.7, 6.9, 7.05, 4.4, 6.5, 7.0,
          7.5, 7.8, 7.9, 7.98, 3.7, 7.5, 7.75, 4.0, 7.9, 4.7, 7.9, 4.55, 7.9, 8.7, 8.9,
          9.4, 9.6, 3.5, 4.1, 5.4, 5.15, 5.0, 5.3, 4.8, 4.9, 5.15, 5.15, 4.1, 5.5, 5.7,
          5.6, 13.2, 12.8, 11.5, 12.0, 11.3, 11.1, 10.9, 10.1, 9.5, 9.4, 9.9, 10.1, 10.4, 10.1,
          9.7, 9.4, 9.35, 9.4, 9.45, 9.2, 9.1, 9.05, 8.9, 8.8, 8.7, 8.45, 4.2, 5.9, 6.0,
          6.4, 6.5, 6.9, 8.8, 8.7, 8.45, 8.6, 8.45, 8.45, 4.3, 5.05, 5.3, 4.8, 5.05, 15.5,
          5.05, 5.1, 15.5, 5.0, 4.8, 13.2, 13.1, 12.7, 5.4, 5.3, 12.8, 13.2, 13.1, 12.6, 11.7,
          10.9, 10.5, 10.3, 10.0, 9.8, 9.7, 3.35, 5.05, 5.3, 5.05, 5.5, 10.3, 3.6, 5.05, 5.6,
          5.8, 5.5, 5.4, 5.8, 6.0, 5.9, 6.5, 10.0, 10.0, 9.9, 9.9, 9.8, 5.5, 4.2, 5.4,
          4.8, 6.0, 8.2, 3.85, 5.3, 6.5, 8.5, 10.6, 11.2, 11.8, 13.3, 13.2, 12.7, 12.9, 12.8]

tick_dates = ['2015-01-08', '2015-01-28', '2015-02-17', '2015-03-09', '2015-03-29']

inicio = pd.Timestamp('2015-01-01')


def fechas(dias):
    return inicio + pd.to_timedelta(dias, unit='D')


fig = plt.figure(figsize=(11.3, 5.96), dpi=100)
ax = fig.add_axes([0.0513, 0.0428, 0.9487, 0.9329])

ax.plot(fechas(boya_day), boya_tp, linestyle='none', marker='o', ms=3.6, mec='none', color='k',
        label='Boya Waverider')
ax.plot(fechas(st1_day), st1_tp, color='#1f3c88', lw=1.2, label='ST1')
ax.plot(fechas(st2_day), st2_tp, color='#16891a', lw=1.2, label='ST2')
ax.plot(fechas(st3_day), st3_tp, color='#b4460f', lw=1.2, label='ST3')

ax.set_xlim(inicio, inicio + pd.Timedelta(days=89.9))
ax.set_ylim(0, 18)
ax.set_yticks(range(0, 19, 2))
ax.set_xticks(pd.to_datetime(tick_dates))
ax.xaxis.set_major_formatter(mdates.DateFormatter('%d/%m'))
ax.grid(True, color='k', linestyle=(0, (7, 4)), linewidth=0.7)
ax.tick_params(direction='in', length=4, labelsize=13, width=0.8)
ax.set_ylabel('Tp(s)', fontsize=13, labelpad=6)
for s in ax.spines.values():
    s.set_linewidth(1.1)

leg = ax.legend(loc='upper right', fontsize=14, fancybox=False, edgecolor='k', framealpha=1,
                borderaxespad=0.3, handlelength=1.8, handletextpad=0.2, labelspacing=0.15,
                borderpad=0.25, numpoints=1)
leg.get_frame().set_linewidth(1.0)

fig.savefig('out.png', dpi=100)
